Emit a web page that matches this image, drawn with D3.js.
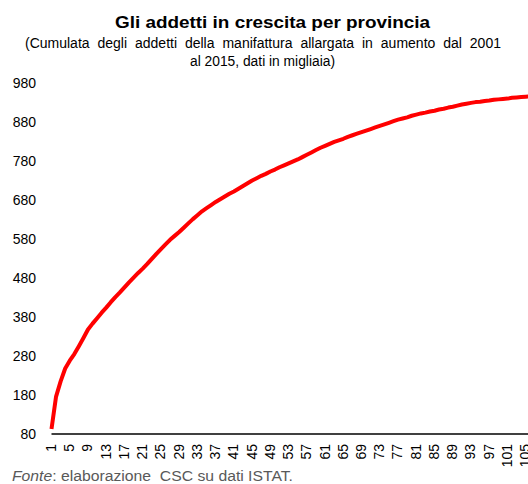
<!DOCTYPE html>
<meta charset="utf-8">
<title>Gli addetti in crescita per provincia</title>
<style>
body {
  margin: 0;
  background: #fff;
  font-family: "Liberation Sans", Arial, sans-serif;
}
text {
  font-family: "Liberation Sans", Arial, sans-serif;
}
.title { font-size: 16.5px; font-weight: bold; }
.subtitle { font-size: 14px; }
.tick text { font-size: 14px; fill: #000; }
.source { font-size: 14px; fill: #595959; }
</style>
<body>
<div id="chart"></div>
<script src="https://d3js.org/d3.v7.min.js"></script>
<script>
// Province rank (x) and cumulated employees in thousands (y)
const provinces = d3.range(1, 108);
const cumulated = [
  93, 176, 215, 248, 268, 285, 305, 326, 348, 363,
  377, 391, 404, 418, 431, 443, 456, 469, 481, 493,
  504, 516, 529, 542, 554, 566, 578, 588, 598, 609,
  620, 631, 641, 651, 659, 667, 675, 682, 689, 696,
  702, 709, 716, 723, 730, 736, 742, 747, 753, 758,
  764, 769, 774, 779, 784, 790, 796, 802, 808, 814,
  819, 824, 829, 833, 837, 842, 846, 850, 854, 858,
  862, 866, 870, 874, 878, 882, 886, 889, 892, 896,
  899, 902, 904, 907, 909, 912, 914, 917, 919, 922,
  925, 927, 929, 931, 932, 934, 935, 937, 938, 939,
  940, 942, 943, 944, 945, 946, 947
];
const yTicks = d3.range(80, 981, 100);
const xTicks = provinces.filter(d => (d - 1) % 4 === 0);

const width = 528;
const height = 484;

const svg = d3.select("#chart")
  .append("svg")
    .attr("width", width)
    .attr("height", height);

// scales: the plot runs past the right edge of the picture
const x = d3.scalePoint()
    .domain(provinces)
    .range([51.5, 51.5 + 106 * 4.56]);

const y = d3.scaleLinear()
    .domain([80, 980])
    .range([434, 83]);

// titles (the original text is a little wider than Liberation Sans)
svg.append("text")
    .attr("class", "title")
    .attr("x", 115)
    .attr("y", 28)
    .attr("textLength", 315)
    .attr("lengthAdjust", "spacingAndGlyphs")
    .text("Gli addetti in crescita per provincia");

// first subtitle line is justified: spread the extra room over the spaces
const sub1 = svg.append("text")
    .attr("class", "subtitle")
    .attr("x", 25)
    .attr("y", 48)
    .text("(Cumulata degli addetti della manifattura allargata in aumento dal 2001");
const natural = sub1.node().getComputedTextLength();
sub1.attr("word-spacing", Math.max(0, (480 - natural) / 10));

svg.append("text")
    .attr("class", "subtitle")
    .attr("x", 190)
    .attr("y", 66)
    .attr("textLength", 145)
    .attr("lengthAdjust", "spacingAndGlyphs")
    .text("al 2015, dati in migliaia)");

// y axis (labels only)
const yAxis = svg.append("g")
    .attr("transform", "translate(36,0)")
    .call(d3.axisLeft(y).tickValues(yTicks).tickSize(0).tickPadding(0));
yAxis.select(".domain").remove();

// x axis
const xAxis = svg.append("g")
    .attr("transform", `translate(0,${y(80)})`)
    .call(d3.axisBottom(x).tickValues(xTicks).tickSize(0).tickPadding(0));
xAxis.select(".domain")
    .attr("d", `M${x(1)},0H${width}`)
    .attr("stroke", "#000")
    .attr("stroke-width", 1.5);
xAxis.selectAll("text")
    .attr("text-anchor", "end")
    .attr("transform", "rotate(-90)")
    .attr("x", -10)
    .attr("y", -1)
    .attr("dy", "0.35em");

// line
const line = d3.line()
    .x((d, i) => x(provinces[i]))
    .y(d => y(d));

svg.append("path")
    .datum(cumulated)
    .attr("fill", "none")
    .attr("stroke", "#ff0000")
    .attr("stroke-width", 4)
    .attr("stroke-linejoin", "round")
    .attr("d", line);

// source
const src = svg.append("text")
    .attr("class", "source")
    .attr("x", 12)
    .attr("y", 481)
    .attr("xml:space", "preserve")
    .attr("textLength", 281)
    .attr("lengthAdjust", "spacingAndGlyphs");
src.append("tspan").attr("font-style", "italic").text("Fonte");
src.append("tspan").text(": elaborazione  CSC su dati ISTAT.");
</script>
</body>
</html>
